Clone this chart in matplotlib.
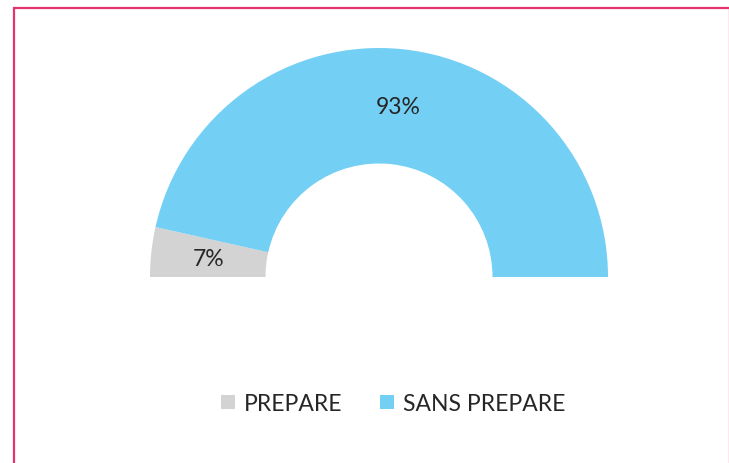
import matplotlib.pyplot as plt
from matplotlib.patches import Rectangle
from matplotlib.lines import Line2D

labels = ['PREPARE', 'SANS PREPARE']
values = [7, 93]
colors = ['#D3D3D3', '#74CFF5']

plt.rcParams['font.family'] = ['Lato', 'DejaVu Sans']

W, H = 729, 464
fig = plt.figure(figsize=(W / 100, H / 100), dpi=100)
ax = fig.add_axes([0, 0, 1, 1])

# half donut: hidden bottom half has the same total as the visible part
cx, cy, r = 379, H - 278, 229
wedges, texts = ax.pie(values + [sum(values)],
                       colors=colors + ['none'],
                       labels=[f'{v}%' for v in values] + [''],
                       labeldistance=0.75,
                       startangle=180, counterclock=False,
                       center=(cx, cy), radius=r,
                       wedgeprops=dict(width=r - 113.5, linewidth=0),
                       textprops=dict(fontsize=16.5, color='#262626'))
for t in texts:
    t.set_ha('center')
    t.set_va('center')

ax.set_xlim(0, W)
ax.set_ylim(0, H)
ax.axis('off')

handles = [Line2D([], [], marker='s', linestyle='none', markersize=9.5,
                  markerfacecolor=c, markeredgewidth=0) for c in colors]
fig.legend(handles, labels, loc='center', bbox_to_anchor=(393 / W, 1 - 405 / H),
           ncol=2, frameon=False, fontsize=16.5, handlelength=0.7,
           handletextpad=0.35, columnspacing=1.6, labelcolor='#262626')

# pink frame (right edge sits on the image border)
fig.patches.append(Rectangle((14 / W, -0.05), (729.5 - 14) / W, 1.05 - 9 / H,
                             transform=fig.transFigure, fill=False,
                             edgecolor='#E5336D', linewidth=1.6))

fig.savefig('out.png', dpi=100, facecolor='white')
